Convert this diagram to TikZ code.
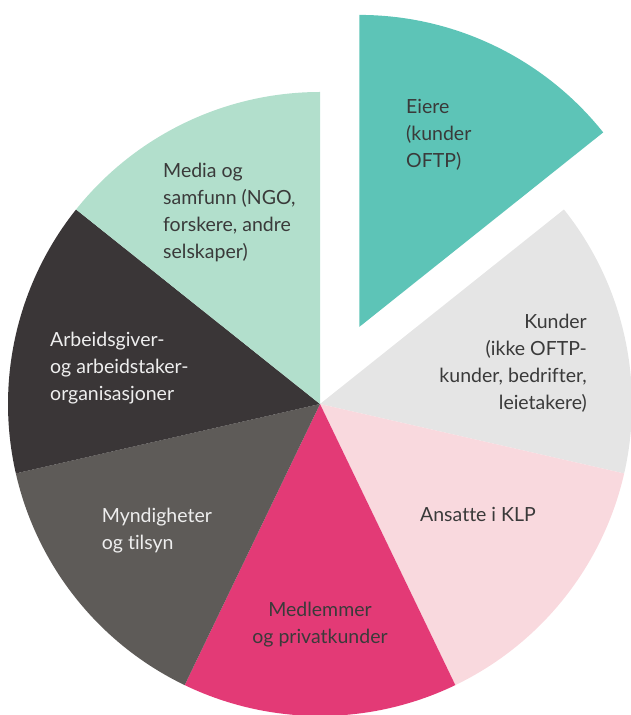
\documentclass[tikz,border=0pt]{standalone}
\usepackage{fontspec}
\setmainfont[Ligatures=NoCommon]{Lato}
\usetikzlibrary{calc}
\definecolor{eierecol}{HTML}{5DC4B7}
\definecolor{kundercol}{HTML}{E5E5E5}
\definecolor{ansattecol}{HTML}{F9D9DE}
\definecolor{medlemcol}{HTML}{E33A76}
\definecolor{myndigcol}{HTML}{5E5B58}
\definecolor{arbeidcol}{HTML}{3A3637}
\definecolor{mediacol}{HTML}{B2DFCC}
\definecolor{darktext}{HTML}{3A3A3A}
\definecolor{lighttext}{HTML}{EEEEEE}
\tikzset{
  darklabel/.style={font=\fontsize{19.5}{27}\selectfont, text=darktext, inner sep=0pt},
  lightlabel/.style={darklabel, text=lighttext}
}
\begin{document}
\begin{tikzpicture}[x=1pt,y=1pt]
\useasboundingbox (0,0) rectangle (630,715);
\coordinate (c) at (320,311);
% slices, clockwise from the top
\foreach \a/\b/\col in {38.57/-12.86/kundercol, -12.86/-64.29/ansattecol,
    -64.29/-115.71/medlemcol, -115.71/-167.14/myndigcol,
    -167.14/-218.57/arbeidcol, 141.43/90/mediacol}
  \fill[\col] (c) -- ++(\a:312) arc[start angle=\a, end angle=\b, radius=312] -- cycle;
% the pulled-out slice
\coordinate (apex) at ($(c)+(63:86.5)$);
\fill[eierecol] (apex) -- ++(90:312) arc[start angle=90, end angle=38.57, radius=312] -- cycle;
% labels (base = baseline of the last line)
\node[darklabel, anchor=base west, align=left] (eiere) at (406,547)
  {Eiere\\(kunder\\OFTP)};
\node[darklabel, anchor=base west, align=left] (media) at (163,456)
  {Media og\\samfunn (NGO,\\forskere, andre\\selskaper)};
\node[darklabel, anchor=base east, align=right] (kunder) at (587,305)
  {Kunder\\(ikke OFTP-\\kunder, bedrifter,\\leietakere)};
\node[lightlabel, anchor=base west, align=left] (arbeid) at (50,314)
  {Arbeidsgiver-\\og arbeidstaker-\\organisasjoner};
\node[darklabel, anchor=base west] (ansatte) at (420,193) {Ansatte i KLP};
\node[lightlabel, anchor=base west, align=left] (myndig) at (101.7,165)
  {Myndigheter\\og tilsyn};
\node[darklabel, anchor=base, align=center] (medlem) at (320,71)
  {Medlemmer\\og privatkunder};
\end{tikzpicture}
\end{document}
